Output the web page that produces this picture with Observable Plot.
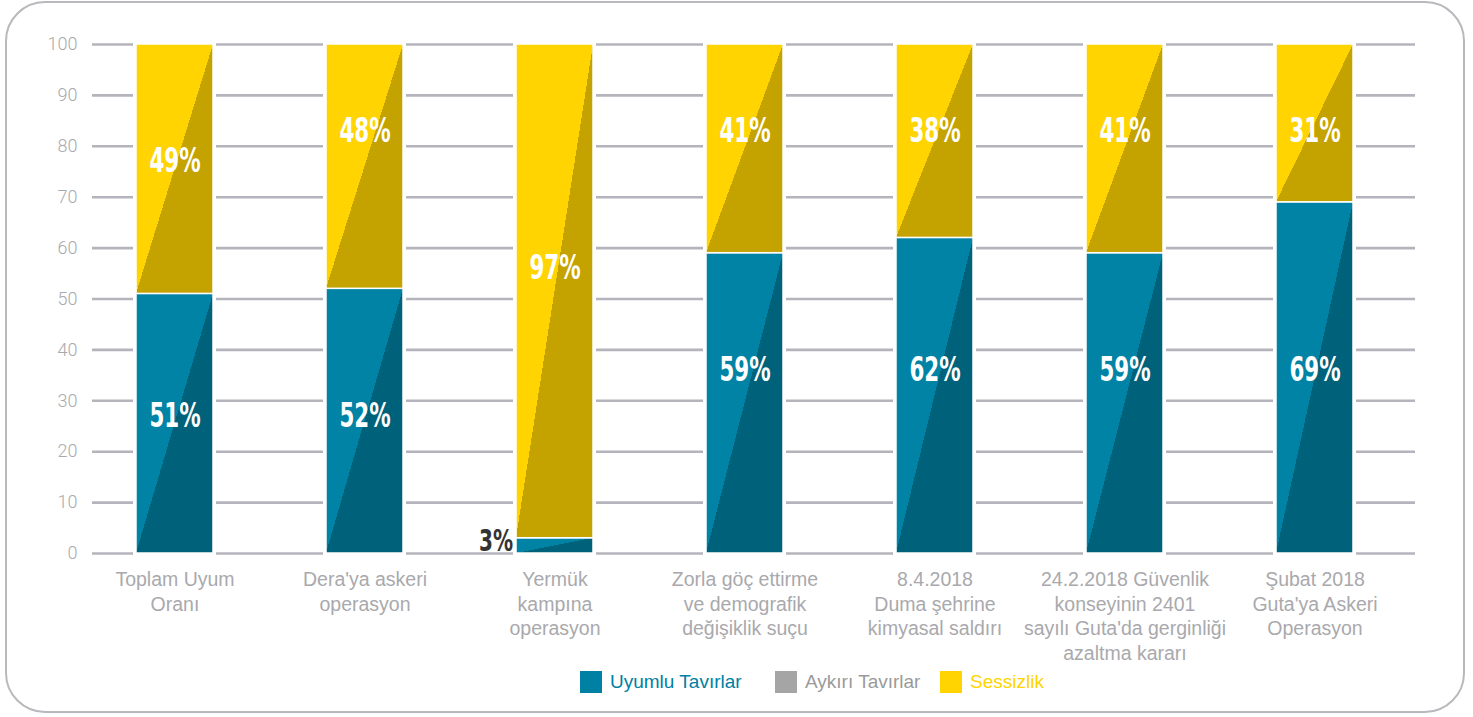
<!DOCTYPE html>
<html><head><meta charset="utf-8">
<script src="https://cdn.jsdelivr.net/npm/d3@7"></script>
<script src="https://cdn.jsdelivr.net/npm/@observablehq/plot@0.6"></script>
<style>
body{margin:0;background:#fff;width:1473px;height:717px;position:relative;overflow:hidden;font-family:"Liberation Sans",Arial,sans-serif}
#frame{position:absolute;left:5px;top:1px;width:1460px;height:712px;border:2px solid #b9b9bd;border-radius:40px;box-sizing:border-box}
#chart{position:absolute;left:0;top:0}
#legend{position:absolute;left:0;top:670px;width:1473px;height:24px;font-size:19px}
#legend span.it{position:absolute;top:0;display:flex;align-items:center;height:24px;white-space:nowrap}
#legend span.sw{display:inline-block;width:22px;height:22px;margin-right:8px}
</style></head>
<body>
<div id="frame"></div>
<div id="chart"></div>
<div id="legend"></div>
<script>
const categories = [
  "Toplam Uyum\nOranı",
  "Dera'ya askeri\noperasyon",
  "Yermük\nkampına\noperasyon",
  "Zorla göç ettirme\nve demografik\ndeğişiklik suçu",
  "8.4.2018\nDuma şehrine\nkimyasal saldırı",
  "24.2.2018 Güvenlik\nkonseyinin 2401\nsayılı Guta'da gerginliği\nazaltma kararı",
  "Şubat 2018\nGuta'ya Askeri\nOperasyon"
];
const compliant = [51, 52, 3, 59, 62, 59, 69];
const contrary  = [0, 0, 0, 0, 0, 0, 0];
const silence   = [49, 48, 97, 41, 38, 41, 31];
const seriesNames = ["Uyumlu Tavırlar", "Aykırı Tavırlar", "Sessizlik"];
const yTicks = [0, 10, 20, 30, 40, 50, 60, 70, 80, 90, 100];
// where the in-bar percentage labels sit, in value-axis units
const compliantLabelAt = [27, 27, 2.4, 36, 36, 36, 36];
const silenceLabelAt   = [77, 83, 56, 83, 83, 83, 83];

const rows = categories.flatMap((c, i) => [
  {cat: c, series: seriesNames[0], value: compliant[i]},
  {cat: c, series: seriesNames[1], value: contrary[i]},
  {cat: c, series: seriesNames[2], value: silence[i]}
]);
const labelRows = categories.flatMap((c, i) => [
  {cat: c, y: compliantLabelAt[i], text: compliant[i] + "%", inside: compliant[i] > 10},
  {cat: c, y: silenceLabelAt[i], text: silence[i] + "%", inside: true}
]);

const labelFont = "'DejaVu Sans Condensed','DejaVu Sans',sans-serif";

const plot = Plot.plot({
  width: 1473,
  height: 670,
  marginLeft: 92,
  marginRight: 58,
  marginTop: 44,
  marginBottom: 117,
  style: {color: "#a9a9ad", fontSize: "16px", fontFamily: "'Liberation Sans',Arial,sans-serif", background: "transparent"},
  x: {domain: categories, paddingInner: 0.595, paddingOuter: 0.279, align: 0.415, label: null},
  y: {domain: [0, 100], label: null},
  color: {domain: seriesNames, range: ["url(#gBlue)", "#a5a5a5", "url(#gYellow)"]},
  marks: [
    Plot.ruleY(yTicks, {stroke: "#b4b4bc", strokeWidth: 2.6}),
    Plot.barY(categories, {x: d => d, y: 100, fill: "white", stroke: "white", strokeWidth: 6}),
    Plot.barY(rows, {x: "cat", y: "value", fill: "series", stroke: "white", strokeWidth: 1.5}),
    Plot.axisY({ticks: yTicks, tickSize: 0, tickPadding: 15, fontSize: 18, fontFamily: "Roboto, sans-serif", fontWeight: 300, label: null}),
    Plot.axisX({tickSize: 0, tickPadding: 15, fontSize: 19.5, lineHeight: 1.26, label: null}),
    Plot.text(labelRows.filter(d => d.inside), {x: "cat", y: "y", text: "text", fill: "white", fontSize: 33, fontWeight: "bold", fontFamily: labelFont}),
    Plot.text(labelRows.filter(d => !d.inside), {x: "cat", y: "y", text: "text", fill: "#333", fontSize: 31, fontWeight: "bold", fontFamily: labelFont, textAnchor: "end", dx: -42})
  ]
});

const svg = d3.select(plot);
const defs = svg.insert("defs", ":first-child");
function grad(id, light, dark) {
  const g = defs.append("linearGradient").attr("id", id).attr("x1", 0).attr("y1", 0).attr("x2", 1).attr("y2", 1);
  g.append("stop").attr("offset", 0.5).attr("stop-color", light);
  g.append("stop").attr("offset", 0.5).attr("stop-color", dark);
}
grad("gBlue", "#0083a5", "#00617a");
grad("gYellow", "#ffd400", "#c4a300");
document.getElementById("chart").appendChild(plot);

// condense the percentage labels (the original uses a narrow display face)
svg.selectAll('g[aria-label="text"] text').each(function() {
  const len = this.getComputedTextLength();
  if (len > 0) {
    const nl = len * 0.72;
    const anchor = this.getAttribute("text-anchor") || this.parentNode.getAttribute("text-anchor");
    if (anchor === "end") {
      const cur = +this.getAttribute("x") || 0;
      this.setAttribute("text-anchor", "start");
      this.setAttribute("x", (cur - nl).toFixed(1));
    }
    this.setAttribute("textLength", nl.toFixed(1));
    this.setAttribute("lengthAdjust", "spacingAndGlyphs");
  }
});

const legendColors = ["#0080a2", "#a5a5a5", "#ffd400"];
const legendText = ["#0080a2", "#9a9a9a", "#ffd400"];
const legendLeft = [580, 775, 940];
const leg = d3.select("#legend");
seriesNames.forEach((n, i) => {
  const it = leg.append("span").attr("class", "it").style("left", legendLeft[i] + "px");
  it.append("span").attr("class", "sw").style("background", legendColors[i]);
  it.append("span").style("color", legendText[i]).text(n);
});
</script>
</body></html>
